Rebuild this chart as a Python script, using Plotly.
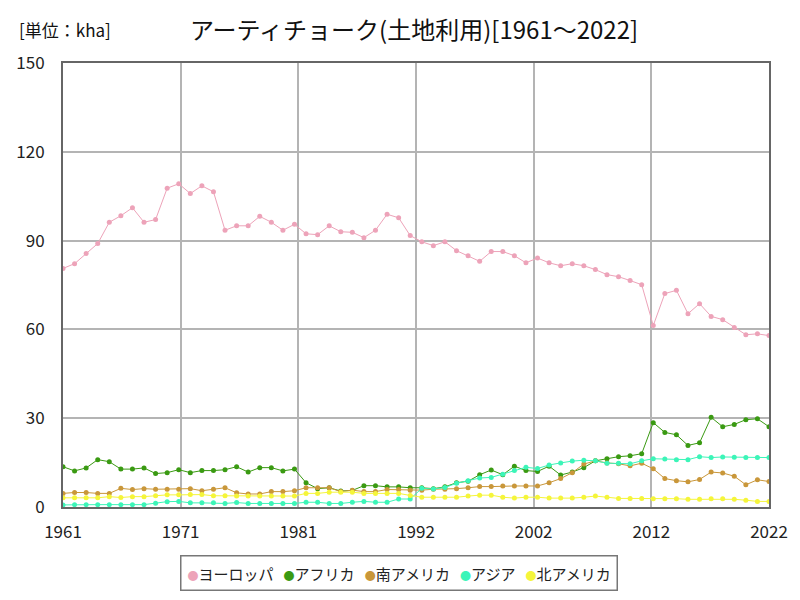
import plotly.graph_objects as go

years = list(range(1961, 2023))

europe = [80.6, 82.2, 85.6, 89.0, 96.2, 98.4, 101.1, 96.2, 97.1, 107.7,
          109.2, 105.9, 108.5, 106.5, 93.5, 95.0, 95.0, 98.2, 96.2, 93.5,
          95.5, 92.3, 92.0, 95.0, 93.0, 92.8, 91.0, 93.5, 98.9, 97.7,
          91.7, 89.6, 88.3, 89.6, 86.6, 84.9, 83.0, 86.3, 86.3, 84.9,
          82.5, 84.1, 82.5, 81.5, 82.2, 81.5, 80.2, 78.5, 77.8, 76.5,
          75.1, 61.3, 72.1, 73.2, 65.3, 68.7, 64.4, 63.3, 60.6, 58.2,
          58.5, 57.9]

africa = [13.6, 12.2, 13.2, 16.0, 15.3, 12.8, 12.8, 13.2, 11.3, 11.6,
          12.6, 11.6, 12.3, 12.3, 12.6, 13.6, 11.8, 13.3, 13.3, 12.2,
          12.8, 8.2, 6.2, 6.5, 5.4, 5.6, 7.2, 7.2, 6.8, 6.8,
          6.5, 6.5, 6.2, 6.8, 8.2, 8.7, 10.9, 12.5, 10.9, 13.8,
          12.3, 12.0, 13.8, 10.8, 11.8, 13.3, 15.6, 16.3, 17.0, 17.3,
          18.0, 28.5, 25.2, 24.4, 20.8, 21.7, 30.3, 27.1, 27.9, 29.5,
          29.8, 27.1]

s_america = [4.6, 4.9, 4.9, 4.6, 4.6, 6.3, 5.9, 6.2, 6.0, 6.0,
             6.0, 6.2, 5.5, 6.0, 6.5, 4.8, 4.4, 4.4, 5.2, 5.2,
             5.5, 6.5, 6.5, 6.5, 5.2, 5.7, 5.2, 5.2, 5.9, 5.9,
             5.7, 5.7, 6.0, 6.0, 6.2, 6.5, 6.9, 6.9, 7.1, 7.1,
             7.1, 7.1, 8.2, 9.6, 11.6, 14.5, 15.6, 14.9, 14.6, 13.9,
             14.8, 12.9, 9.6, 8.9, 8.5, 9.3, 11.8, 11.5, 10.4, 7.5,
             9.2, 8.6]

asia = [0.7, 0.8, 0.8, 0.8, 0.8, 0.8, 0.8, 0.8, 1.3, 1.8,
        1.9, 1.4, 1.4, 1.4, 1.2, 1.5, 1.2, 1.2, 1.2, 1.2,
        1.2, 1.6, 1.6, 1.2, 1.2, 1.6, 1.9, 1.6, 1.6, 2.7,
        2.7, 6.3, 6.1, 6.6, 8.0, 8.9, 9.8, 10.0, 11.1, 12.3,
        13.4, 13.0, 14.2, 14.9, 15.5, 15.8, 15.6, 14.8, 14.8, 14.6,
        15.6, 16.3, 16.2, 16.0, 16.0, 17.0, 16.7, 16.9, 16.8, 16.7,
        16.7, 16.7]

n_america = [3.1, 3.1, 3.1, 3.1, 3.5, 3.2, 3.5, 3.5, 3.8, 4.1,
             4.1, 4.2, 4.2, 3.8, 3.8, 3.7, 3.7, 3.7, 3.7, 3.7,
             3.7, 4.6, 4.6, 5.0, 5.0, 5.0, 4.6, 4.6, 4.6, 4.6,
             3.9, 3.3, 3.3, 3.3, 3.3, 3.7, 4.0, 4.0, 3.3, 3.0,
             3.3, 3.3, 3.0, 3.0, 3.0, 3.3, 3.7, 3.3, 2.9, 2.9,
             2.9, 2.8, 2.8, 2.8, 2.6, 2.6, 2.8, 2.8, 2.6, 2.3,
             1.9, 1.9]

series_names = ["ヨーロッパ", "アフリカ", "南アメリカ", "アジア", "北アメリカ"]
series_values = [europe, africa, s_america, asia, n_america]
colors = ["#eda3b9", "#3a9a12", "#c9973a", "#3cf5b8", "#f5f53a"]

x_tick_labels = ["1961", "1971", "1981", "1992", "2002", "2012", "2022"]
x_tick_pos = [1961 + i * 61 / 6 for i in range(7)]
y_ticks = [0, 30, 60, 90, 120, 150]

title_text = "アーティチョーク(土地利用)[1961～2022]"
unit_text = "[単位：kha]"

FONT = "Noto Sans CJK JP"

L, R, T, B = 63, 28, 63, 93
W, H = 800, 600
pw, ph = W - L - R, H - T - B


def px_x(x):
    return (x - L) / pw


def px_y(y):
    return (H - B - y) / ph


fig = go.Figure()
for name, vals, col in zip(series_names, series_values, colors):
    fig.add_trace(go.Scatter(
        x=years, y=vals, mode="lines+markers", name=name,
        line=dict(color=col, width=1),
        marker=dict(color=col, size=5),
        showlegend=False,
    ))

legend_html = "&nbsp;&nbsp;&nbsp;".join(
    f"<span style='color:{c};font-size:11px'>●</span>{n}"
    for n, c in zip(series_names, colors)
)

fig.update_layout(
    width=W, height=H,
    margin=dict(l=L, r=R, t=T, b=B),
    paper_bgcolor="white", plot_bgcolor="white",
    font=dict(family=FONT, color="#222"),
    showlegend=False,
    annotations=[
        dict(text=title_text, x=px_x(415), y=px_y(28),
             xref="paper", yref="paper", showarrow=False,
             xanchor="center", yanchor="middle",
             font=dict(size=24, family=FONT, color="#111")),
        dict(text=unit_text, x=px_x(17), y=px_y(30), xref="paper", yref="paper",
             showarrow=False, xanchor="left", yanchor="middle",
             font=dict(size=17, family=FONT, color="#111")),
        dict(text=legend_html, x=px_x(400), y=px_y(573), xref="paper", yref="paper",
             showarrow=False, xanchor="center", yanchor="middle",
             bordercolor="#777", borderwidth=1.5, borderpad=6, bgcolor="white",
             font=dict(size=15, family=FONT, color="#222")),
    ],
)

fig.update_xaxes(
    range=[1961, 2022], tickvals=x_tick_pos, ticktext=x_tick_labels,
    showgrid=True, gridcolor="#b4b4b4", gridwidth=1.5,
    showline=True, linecolor="#666", linewidth=2, mirror=True,
    ticks="", ticklabelstandoff=9,
    tickfont=dict(size=17, family=FONT, color="#222"),
    zeroline=False,
)
fig.update_yaxes(
    range=[0, 150], tickvals=y_ticks,
    showgrid=True, gridcolor="#b4b4b4", gridwidth=1.5,
    showline=True, linecolor="#666", linewidth=2, mirror=True,
    ticks="", ticklabelstandoff=13,
    tickfont=dict(size=17, family=FONT, color="#222"),
    zeroline=False,
)

fig.write_html("out.html", config={"displayModeBar": False},
               post_script="document.body.style.margin='0';")
